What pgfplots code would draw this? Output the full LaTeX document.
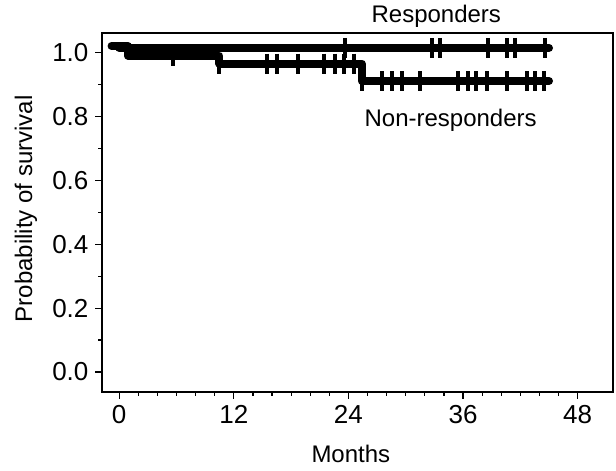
\documentclass[border=0pt]{standalone}
\usepackage{fontspec}
\setmainfont{Liberation Sans}
\usepackage{pgfplots}
\pgfplotsset{compat=1.18}
\begin{document}
\begin{tikzpicture}
\begin{axis}[
  scale only axis, width=255.5pt, height=179.5pt,
  xmin=-1.8, xmax=51.7, ymin=-0.0626, ymax=1.0617,
  xtick={0,12,24,36,48}, minor x tick num=5,
  ytick={0,0.2,0.4,0.6,0.8,1.0}, minor y tick num=1,
  yticklabel style={/pgf/number format/.cd, fixed, fixed zerofill, precision=1},
  /pgf/number format/assume math mode=true,
  tick align=outside, tick pos=left,
  major tick length=3.25pt, minor tick length=1.8pt,
  tick style={black, line width=0.6pt},
  axis line style={line width=0.8pt},
  tick label style={font=\fontsize{13}{15}\selectfont},
  label style={font=\fontsize{12}{14}\selectfont},
  xlabel={Months}, ylabel={Probability of survival},
  xlabel style={at={(axis description cs:0.487,0)}, anchor=base, yshift=-35pt},
  ylabel style={at={(axis description cs:-0.149,0.51)}, anchor=center},
  clip=false,
]
% Responders
\addplot[black, line width=4pt, line cap=round, line join=round] coordinates {
  (0,1.015) (45.0,1.015)};
\addplot[black, only marks, mark=|, mark size=5pt, mark options={line width=2pt}] coordinates {
  (23.6,1.015) (32.7,1.015) (33.6,1.015) (38.6,1.015) (40.6,1.015) (41.4,1.015) (44.6,1.015)};
% Non-responders
\addplot[black, line width=4pt, line cap=round, line join=round] coordinates {
  (-0.8,1.021) (0.9,1.021) (0.9,0.991) (10.5,0.991) (10.5,0.966) (25.4,0.966) (25.4,0.911) (45.0,0.911)};
\addplot[black, only marks, mark=|, mark size=5pt, mark options={line width=2pt}] coordinates {
  (5.6,0.991) (10.4,0.966) (15.5,0.966) (16.5,0.966) (18.7,0.966) (21.4,0.966) (22.6,0.966) (23.5,0.966) (24.6,0.966)
  (25.4,0.911) (27.5,0.911) (28.6,0.911) (29.6,0.911) (31.5,0.911) (35.5,0.911) (36.5,0.911) (37.4,0.911)
  (38.5,0.911) (40.6,0.911) (42.7,0.911) (43.5,0.911) (44.5,0.911)};
\node[anchor=base, font=\fontsize{12}{14}\selectfont] at (axis cs:33.2,1.093) {Responders};
\node[anchor=base, font=\fontsize{12}{14}\selectfont] at (axis cs:34.7,0.770) {Non-responders};
\end{axis}
\pgfresetboundingbox
\path ([xshift=-51pt,yshift=-39.5pt]current axis.south west) rectangle ([xshift=1.5pt,yshift=16.5pt]current axis.north east);
\end{tikzpicture}
\end{document}
